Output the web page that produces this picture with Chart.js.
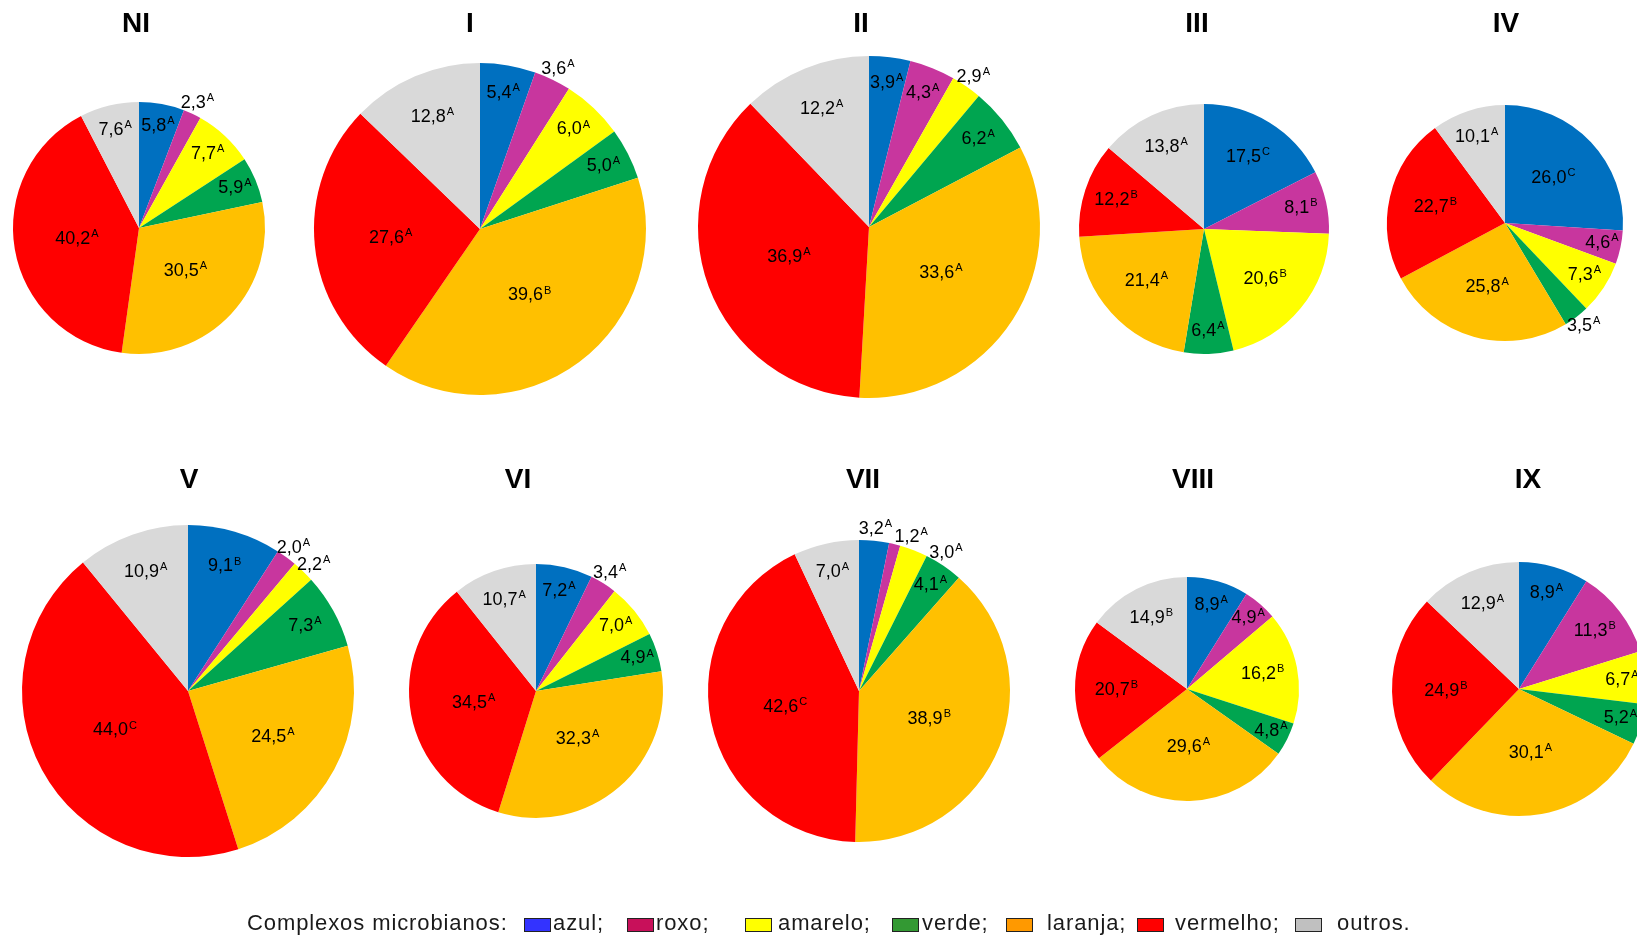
<!DOCTYPE html>
<html lang="pt">
<head>
<meta charset="utf-8">
<title>Complexos microbianos</title>
<script src="https://cdn.jsdelivr.net/npm/chart.js@4.4.1/dist/chart.umd.min.js"></script>
<style>
  html, body { margin: 0; padding: 0; background: #fff; overflow: hidden; }
  #page { position: relative; width: 1637px; height: 939px; overflow: hidden; font-family: 'Liberation Sans', Arial, sans-serif; }
  #page canvas { position: absolute; }
  .title { position: absolute; font-size: 28px; font-weight: bold; line-height: 1; transform: translate(-50%, -50%); white-space: nowrap; color: #000; }
  .lg { position: absolute; top: 923px; transform: translateY(-50%); font-size: 22px; letter-spacing: 0.9px; line-height: 1; color: #1a1a1a; white-space: nowrap; }
  .box { position: absolute; top: 918px; width: 25px; height: 12px; border: 1.5px solid #222; }
</style>
</head>
<body>
<div id="page"></div>
<script>
// grupos (painéis)
const panels = ['NI', 'I', 'II', 'III', 'IV', 'V', 'VI', 'VII', 'VIII', 'IX'];
const categories = ['azul', 'roxo', 'amarelo', 'verde', 'laranja', 'vermelho', 'outros'];

// % de cada complexo, na ordem de categories
const valuesNI   = [5.8, 2.3, 7.7, 5.9, 30.5, 40.2, 7.6];
const valuesI    = [5.4, 3.6, 6.0, 5.0, 39.6, 27.6, 12.8];
const valuesII   = [3.9, 4.3, 2.9, 6.2, 33.6, 36.9, 12.2];
const valuesIII  = [17.5, 8.1, 20.6, 6.4, 21.4, 12.2, 13.8];
const valuesIV   = [26.0, 4.6, 7.3, 3.5, 25.8, 22.7, 10.1];
const valuesV    = [9.1, 2.0, 2.2, 7.3, 24.5, 44.0, 10.9];
const valuesVI   = [7.2, 3.4, 7.0, 4.9, 32.3, 34.5, 10.7];
const valuesVII  = [3.2, 1.2, 3.0, 4.1, 38.9, 42.6, 7.0];
const valuesVIII = [8.9, 4.9, 16.2, 4.8, 29.6, 20.7, 14.9];
const valuesIX   = [8.9, 11.3, 6.7, 5.2, 30.1, 24.9, 12.9];

// letras sobrescritas (teste estatístico)
const lettersNI   = ['A', 'A', 'A', 'A', 'A', 'A', 'A'];
const lettersI    = ['A', 'A', 'A', 'A', 'B', 'A', 'A'];
const lettersII   = ['A', 'A', 'A', 'A', 'A', 'A', 'A'];
const lettersIII  = ['C', 'B', 'B', 'A', 'A', 'B', 'A'];
const lettersIV   = ['C', 'A', 'A', 'A', 'A', 'B', 'A'];
const lettersV    = ['B', 'A', 'A', 'A', 'A', 'C', 'A'];
const lettersVI   = ['A', 'A', 'A', 'A', 'A', 'A', 'A'];
const lettersVII  = ['A', 'A', 'A', 'A', 'B', 'C', 'A'];
const lettersVIII = ['A', 'A', 'B', 'A', 'A', 'B', 'B'];
const lettersIX   = ['A', 'B', 'A', 'A', 'A', 'B', 'A'];

const allValues = [valuesNI, valuesI, valuesII, valuesIII, valuesIV, valuesV, valuesVI, valuesVII, valuesVIII, valuesIX];
const allLetters = [lettersNI, lettersI, lettersII, lettersIII, lettersIV, lettersV, lettersVI, lettersVII, lettersVIII, lettersIX];

// cores
const sliceColors = ['#0070C0', '#C8369E', '#FFFF00', '#00A550', '#FFC000', '#FF0000', '#D9D9D9'];
const legendColors = ['#3333FF', '#C8105A', '#FFFF00', '#339933', '#FF9900', '#FF0000', '#C0C0C0'];

// layout: centro e raio de cada pizza, posição dos títulos
const pieCenters = [[139, 228], [480, 229], [869, 227], [1204, 229], [1505, 223],
                    [188, 691], [536, 691], [859, 691], [1187, 689], [1519, 689]];
const pieRadii = [126, 166, 171, 125, 118, 166, 127, 151, 112, 127];
const titlePos = [[136, 23], [470, 23], [861, 23], [1197, 23], [1506, 23],
                  [189, 479], [518, 479], [863, 479], [1193, 479], [1528, 479]];
const CANVAS = 460;

const page = document.getElementById('page');
const labelFont = '18px "Liberation Sans", Arial, sans-serif';
const supFont = '11px "Liberation Sans", Arial, sans-serif';

// rótulos com letra sobrescrita (estilo Excel "melhor ajuste")
const sliceLabels = {
  id: 'sliceLabels',
  afterDatasetsDraw(chart) {
    const ctx = chart.ctx;
    const ds = chart.data.datasets[0];
    const meta = chart.getDatasetMeta(0);
    const placed = [];
    ctx.save();
    ctx.fillStyle = '#000';
    ctx.textBaseline = 'middle';
    ctx.textAlign = 'left';
    meta.data.forEach((arc, i) => {
      const v = ds.data[i];
      const p = arc.getProps(['x', 'y', 'startAngle', 'endAngle', 'outerRadius'], true);
      const txt = v.toFixed(1).replace('.', ',');
      const sup = ds.letters[i];
      ctx.font = labelFont;
      const w1 = ctx.measureText(txt).width;
      ctx.font = supFont;
      const w2 = ctx.measureText(sup).width;
      const w = w1 + w2 + 1, h = 16;
      let a = (p.startAngle + p.endAngle) / 2;
      let lx, ly;
      if (v < 3.8) {
        const d = p.outerRadius + 12;
        for (let k = 0; k < 60; k++) {
          lx = p.x + d * Math.cos(a);
          ly = p.y + d * Math.sin(a);
          const hit = placed.some(q => Math.abs(q.x - lx) < (q.w + w) / 2 && Math.abs(q.y - ly) < h);
          if (!hit) break;
          a += Math.PI / 180;
        }
        placed.push({ x: lx, y: ly, w: w });
      } else {
        const f = Math.min(0.85, Math.max(0.5, 0.9 - 0.013 * v));
        lx = p.x + p.outerRadius * f * Math.cos(a);
        ly = p.y + p.outerRadius * f * Math.sin(a);
      }
      ctx.font = labelFont;
      ctx.fillText(txt, lx - w / 2, ly);
      ctx.font = supFont;
      ctx.fillText(sup, lx - w / 2 + w1 + 1, ly - 5);
    });
    ctx.restore();
  }
};

panels.forEach((name, k) => {
  const canvas = document.createElement('canvas');
  canvas.width = CANVAS;
  canvas.height = CANVAS;
  canvas.style.left = (pieCenters[k][0] - CANVAS / 2) + 'px';
  canvas.style.top = (pieCenters[k][1] - CANVAS / 2) + 'px';
  page.appendChild(canvas);

  new Chart(canvas, {
    type: 'pie',
    data: {
      labels: categories,
      datasets: [{
        data: allValues[k],
        letters: allLetters[k],
        backgroundColor: sliceColors,
        borderWidth: 0
      }]
    },
    options: {
      responsive: false,
      devicePixelRatio: 1,
      animation: false,
      radius: pieRadii[k],
      layout: { padding: 0 },
      plugins: {
        legend: { display: false },
        tooltip: { enabled: false }
      }
    },
    plugins: [sliceLabels]
  });

  const t = document.createElement('div');
  t.className = 'title';
  t.textContent = name;
  t.style.left = titlePos[k][0] + 'px';
  t.style.top = titlePos[k][1] + 'px';
  page.appendChild(t);
});

// legenda
const legendTitle = document.createElement('div');
legendTitle.className = 'lg';
legendTitle.style.left = '247px';
legendTitle.textContent = 'Complexos microbianos:';
page.appendChild(legendTitle);

const legendText = ['azul;', 'roxo;', 'amarelo;', 'verde;', 'laranja;', 'vermelho;', 'outros.'];
const legendBoxX = [524, 627, 745, 892, 1006, 1137, 1295];
const legendTextX = [553, 656, 778, 922, 1047, 1175, 1337];
legendText.forEach((s, i) => {
  const b = document.createElement('div');
  b.className = 'box';
  b.style.left = legendBoxX[i] + 'px';
  b.style.background = legendColors[i];
  page.appendChild(b);
  const t = document.createElement('div');
  t.className = 'lg';
  t.style.left = legendTextX[i] + 'px';
  t.textContent = s;
  page.appendChild(t);
});
</script>
</body>
</html>
